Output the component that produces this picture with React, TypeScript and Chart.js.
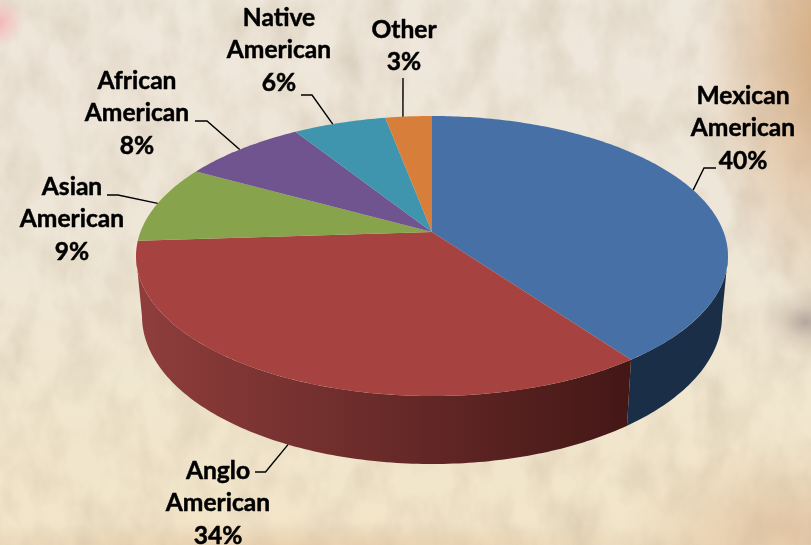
import React, { useEffect, useRef } from "react";
import { Chart, registerables, ArcElement, PieController } from "chart.js";

Chart.register(...registerables);

const categories = ["Mexican American", "Anglo American", "Asian American", "African American", "Native American", "Other"];
const shares = [40, 34, 9, 8, 6, 3];
const topColors = ["#4670a6", "#a64341", "#87a44c", "#6f5490", "#3f95ae", "#d67e3a"];
const wallStops = [
  ["#1a2f47", "#1a2f47"],
  ["#8f3e3c", "#431716"],
  ["#6b8238", "#6b8238"],
  ["#55406f", "#55406f"],
  ["#2f7387", "#2f7387"],
  ["#a7602a", "#a7602a"],
];
const labelLines = [
  ["Mexican", "American", "40%"],
  ["Anglo", "American", "34%"],
  ["Asian", "American", "9%"],
  ["African", "American", "8%"],
  ["Native", "American", "6%"],
  ["Other", "3%"],
];
const labelCenters = [
  [743, 96],
  [218, 471],
  [72, 187],
  [137, 81],
  [279, 18],
  [404, 30],
];
const leaderBends = [
  [[704, 168], [716, 168]],
  [[265.5, 472], [255, 472]],
  [[118, 195], [107, 195]],
  [[207, 121], [195, 121]],
  [[312, 95], [301, 95]],
  [[403, 78]],
];
const leaderAngleShiftDeg = [-1, 0, 0, -0.6, -1.6, -1.3];

// Perspective of the tilted disc, relative to the arc's own centre and radius
const TILT = 0.1714;
const SCALE_X = 291.6 / 136;
const SCALE_Y = 135.9 / 136;
const BASE_SHRINK = 0.98;

function project(el: any, a: number) {
  const X = Math.cos(a);
  const Y = Math.sin(a);
  const w = 1 - TILT * Y;
  const r = el.outerRadius;
  return { x: el.x + (SCALE_X * r * X) / w, y: el.y + (SCALE_Y * r * Y) / w };
}
function projectBase(el: any, a: number) {
  const p = project(el, a);
  return { x: el.x + (p.x - el.x) * BASE_SHRINK, y: p.y + 58 + 10 * Math.sin(a) };
}

class PerspectiveArc extends ArcElement {
  static id = "perspectiveArc";
  draw(ctx: CanvasRenderingContext2D) {
    const el: any = this;
    const color = el.options.backgroundColor;
    ctx.save();
    ctx.beginPath();
    ctx.moveTo(el.x, el.y);
    const steps = Math.max(2, Math.ceil((el.endAngle - el.startAngle) / 0.015));
    for (let i = 0; i <= steps; i++) {
      const p = project(el, el.startAngle + ((el.endAngle - el.startAngle) * i) / steps);
      ctx.lineTo(p.x, p.y);
    }
    ctx.closePath();
    ctx.fillStyle = color;
    ctx.fill();
    ctx.restore();
  }
}

class PerspectivePie extends PieController {
  static id = "perspectivePie";
  static defaults = { dataElementType: "perspectiveArc" };
}

Chart.register(PerspectiveArc as any, PerspectivePie as any);

const wallPlugin = {
  id: "walls",
  beforeDatasetsDraw(chart: any) {
    const { ctx } = chart;
    const arcs = chart.getDatasetMeta(0).data;
    const frontStart = Math.asin(TILT);
    const frontEnd = Math.PI - frontStart;
    arcs.forEach((el: any, i: number) => {
      const a0 = Math.max(el.startAngle, frontStart);
      const a1 = Math.min(el.endAngle, frontEnd);
      if (a1 <= a0) return;
      const n = Math.ceil((a1 - a0) / 0.015);
      ctx.save();
      ctx.beginPath();
      for (let k = 0; k <= n; k++) {
        const p = project(el, a0 + ((a1 - a0) * k) / n);
        k === 0 ? ctx.moveTo(p.x, p.y) : ctx.lineTo(p.x, p.y);
      }
      for (let k = n; k >= 0; k--) {
        const p = projectBase(el, a0 + ((a1 - a0) * k) / n);
        ctx.lineTo(p.x, p.y);
      }
      ctx.closePath();
      const left = project(el, a1).x;
      const right = project(el, a0).x;
      const g = ctx.createLinearGradient(left, 0, right, 0);
      g.addColorStop(0, wallStops[i][0]);
      g.addColorStop(1, wallStops[i][1]);
      ctx.fillStyle = g;
      ctx.fill();
      ctx.restore();
    });
  },
  afterDatasetsDraw(chart: any) {
    const { ctx } = chart;
    const arcs = chart.getDatasetMeta(0).data;
    ctx.save();
    ctx.strokeStyle = "#000";
    ctx.lineWidth = 1.4;
    arcs.forEach((el: any, i: number) => {
      const mid = (el.startAngle + el.endAngle) / 2 + (leaderAngleShiftDeg[i] * Math.PI) / 180;
      const onFront = Math.sin(mid) > TILT;
      const start = onFront ? projectBase(el, mid) : project(el, mid);
      ctx.beginPath();
      ctx.moveTo(start.x, start.y);
      leaderBends[i].forEach((p) => ctx.lineTo(p[0], p[1]));
      ctx.stroke();
    });
    ctx.fillStyle = "#000";
    ctx.font = "bold 24.6px Lato";
    ctx.textAlign = "center";
    ctx.textBaseline = "middle";
    ctx.lineWidth = 0.5;
    ctx.lineJoin = "round";
    labelLines.forEach((lines, i) => {
      lines.forEach((line, k) => {
        const y = labelCenters[i][1] + k * 32.5;
        ctx.fillText(line, labelCenters[i][0], y);
        ctx.strokeText(line, labelCenters[i][0], y);
      });
    });
    ctx.restore();
  },
};

const noiseSvg =
  "<svg xmlns='http://www.w3.org/2000/svg' width='811' height='545'>" +
  "<filter id='n' x='0' y='0' width='100%' height='100%'>" +
  "<feTurbulence type='fractalNoise' baseFrequency='0.03 0.02' numOctaves='4' seed='7'/>" +
  "<feColorMatrix values='0 0 0 0 0.5  0 0 0 0 0.4  0 0 0 0 0.28  0.5 0.3 0 0 -0.33'/>" +
  "</filter><rect width='811' height='545' filter='url(#n)'/></svg>";

const pageBackground = [
  `url("data:image/svg+xml,${encodeURIComponent(noiseSvg)}")`,
  "radial-gradient(circle at -2px 22px, rgba(245,170,175,0.8) 0, rgba(245,185,190,0.5) 14px, rgba(245,190,190,0) 26px)",
  "radial-gradient(ellipse 45px 35px at 806px 322px, rgba(130,112,112,0.55) 0, rgba(150,128,115,0.22) 50%, rgba(150,130,110,0) 100%)",
  "radial-gradient(ellipse 130px 260px at 830px 50px, rgba(205,155,105,0.85) 0, rgba(215,170,125,0.45) 55%, rgba(225,190,150,0) 100%)",
  "radial-gradient(ellipse 170px 90px at 790px 530px, rgba(215,170,130,0.5) 0, rgba(220,185,150,0) 100%)",
  "radial-gradient(ellipse 500px 30px at 300px 550px, rgba(225,190,150,0.55) 0, rgba(225,195,160,0) 100%)",
  "linear-gradient(180deg, #eee7db 0%, #eee6d8 40%, #f1e7cf 72%, #f1e4c8 100%)",
].join(",");

export default function App() {
  const ref = useRef<HTMLCanvasElement>(null);
  useEffect(() => {
    document.body.style.margin = "0";
    const chart = new Chart(ref.current!, {
      type: "perspectivePie" as any,
      data: {
        labels: categories,
        datasets: [{ data: shares, backgroundColor: topColors, borderWidth: 0 }],
      },
      options: {
        responsive: false,
        animation: false,
        layout: { padding: { left: 296, right: 243, top: 96, bottom: 177 } },
        plugins: { legend: { display: false }, tooltip: { enabled: false } },
      },
      plugins: [wallPlugin],
    } as any);
    return () => chart.destroy();
  }, []);
  return (
    <div style={{ width: 811, height: 545, overflow: "hidden", background: pageBackground }}>
      <canvas ref={ref} width={811} height={545} style={{ display: "block" }} />
    </div>
  );
}
